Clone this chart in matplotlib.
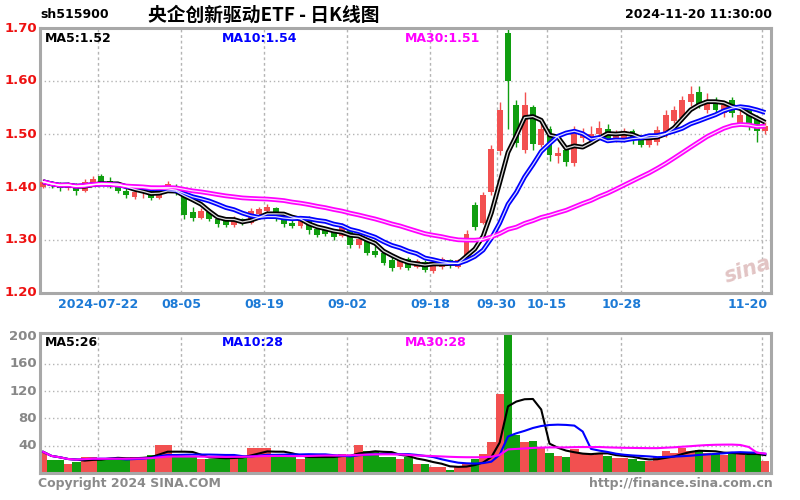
import matplotlib
matplotlib.use('Agg')
import matplotlib.pyplot as plt
import numpy as np
import pandas as pd

plt.rcParams['font.family'] = ['DejaVu Sans', 'Noto Sans CJK SC']

# ---------------- data ----------------
dates = ['07-11', '07-12', '07-15', '07-16', '07-17', '07-18', '07-19', '07-22', '07-23', '07-24',
         '07-25', '07-26', '07-29', '07-30', '07-31', '08-01', '08-02', '08-05', '08-06', '08-07',
         '08-08', '08-09', '08-12', '08-13', '08-14', '08-15', '08-16', '08-19', '08-20', '08-21',
         '08-22', '08-23', '08-26', '08-27', '08-28', '08-29', '08-30', '09-02', '09-03', '09-04',
         '09-05', '09-06', '09-09', '09-10', '09-11', '09-12', '09-13', '09-18', '09-19', '09-20',
         '09-23', '09-24', '09-25', '09-26', '09-27', '09-30', '10-08', '10-09', '10-10', '10-11',
         '10-14', '10-15', '10-16', '10-17', '10-18', '10-21', '10-22', '10-23', '10-24', '10-25',
         '10-28', '10-29', '10-30', '10-31', '11-01', '11-04', '11-05', '11-06', '11-07', '11-08',
         '11-11', '11-12', '11-13', '11-14', '11-15', '11-18', '11-19', '11-20']

opens = [1.400, 1.410, 1.404, 1.398, 1.405, 1.392, 1.408, 1.420, 1.412, 1.402,
         1.392, 1.382, 1.388, 1.392, 1.380, 1.395, 1.402, 1.385, 1.352, 1.342,
         1.352, 1.340, 1.335, 1.328, 1.340, 1.332, 1.350, 1.355, 1.360, 1.340,
         1.332, 1.326, 1.340, 1.320, 1.318, 1.315, 1.308, 1.320, 1.290, 1.298,
         1.280, 1.275, 1.262, 1.250, 1.265, 1.250, 1.258, 1.242, 1.250, 1.262,
         1.250, 1.262, 1.366, 1.332, 1.390, 1.468, 1.690, 1.555, 1.470, 1.550,
         1.480, 1.510, 1.458, 1.470, 1.445, 1.492, 1.490, 1.500, 1.510, 1.490,
         1.492, 1.505, 1.490, 1.480, 1.485, 1.500, 1.525, 1.530, 1.560, 1.580,
         1.545, 1.565, 1.540, 1.565, 1.520, 1.545, 1.530, 1.505]
highs = [1.415, 1.412, 1.410, 1.410, 1.408, 1.415, 1.420, 1.425, 1.418, 1.405,
         1.398, 1.392, 1.395, 1.395, 1.400, 1.412, 1.405, 1.388, 1.362, 1.360,
         1.355, 1.345, 1.340, 1.345, 1.342, 1.360, 1.362, 1.368, 1.362, 1.342,
         1.340, 1.345, 1.345, 1.325, 1.322, 1.320, 1.332, 1.322, 1.308, 1.300,
         1.288, 1.278, 1.268, 1.268, 1.268, 1.265, 1.262, 1.262, 1.268, 1.265,
         1.265, 1.318, 1.372, 1.390, 1.480, 1.560, 1.700, 1.565, 1.580, 1.555,
         1.525, 1.515, 1.475, 1.478, 1.515, 1.512, 1.515, 1.525, 1.518, 1.508,
         1.512, 1.510, 1.495, 1.495, 1.515, 1.545, 1.552, 1.572, 1.590, 1.590,
         1.578, 1.570, 1.562, 1.570, 1.545, 1.552, 1.535, 1.525]
lows = [1.398, 1.398, 1.392, 1.394, 1.385, 1.390, 1.405, 1.405, 1.398, 1.388,
        1.380, 1.378, 1.380, 1.376, 1.378, 1.392, 1.385, 1.340, 1.335, 1.340,
        1.335, 1.325, 1.325, 1.325, 1.328, 1.330, 1.345, 1.350, 1.335, 1.325,
        1.322, 1.322, 1.312, 1.305, 1.308, 1.300, 1.305, 1.285, 1.285, 1.272,
        1.268, 1.252, 1.242, 1.245, 1.244, 1.248, 1.240, 1.238, 1.245, 1.248,
        1.248, 1.260, 1.318, 1.330, 1.385, 1.460, 1.510, 1.475, 1.465, 1.470,
        1.475, 1.450, 1.445, 1.440, 1.440, 1.485, 1.485, 1.495, 1.485, 1.485,
        1.485, 1.482, 1.475, 1.475, 1.480, 1.495, 1.520, 1.525, 1.552, 1.550,
        1.540, 1.540, 1.532, 1.532, 1.515, 1.508, 1.485, 1.500]
closes = [1.410, 1.402, 1.398, 1.405, 1.392, 1.410, 1.416, 1.410, 1.402, 1.392,
          1.384, 1.390, 1.392, 1.380, 1.396, 1.405, 1.388, 1.348, 1.342, 1.355,
          1.340, 1.330, 1.328, 1.340, 1.332, 1.355, 1.358, 1.362, 1.340, 1.330,
          1.326, 1.340, 1.318, 1.310, 1.312, 1.305, 1.328, 1.290, 1.302, 1.276,
          1.272, 1.256, 1.248, 1.264, 1.248, 1.260, 1.244, 1.258, 1.264, 1.252,
          1.262, 1.312, 1.325, 1.385, 1.472, 1.545, 1.600, 1.483, 1.555, 1.482,
          1.510, 1.460, 1.465, 1.448, 1.505, 1.498, 1.500, 1.512, 1.490, 1.500,
          1.505, 1.488, 1.480, 1.490, 1.508, 1.535, 1.545, 1.565, 1.575, 1.555,
          1.565, 1.545, 1.555, 1.540, 1.535, 1.515, 1.505, 1.515]
volumes = [31, 19, 19, 13, 16, 24, 24, 21, 21, 21,
           21, 24, 24, 26, 41, 41, 24, 24, 24, 21,
           21, 21, 21, 26, 24, 36, 36, 36, 24, 24,
           24, 21, 24, 24, 24, 24, 28, 26, 41, 32,
           32, 24, 24, 21, 24, 13, 13, 9, 9, 5,
           9, 15, 20, 28, 45, 115, 280, 55, 45, 47,
           38, 30, 25, 24, 35, 28, 26, 30, 25, 22,
           22, 20, 18, 17, 24, 32, 30, 36, 32, 33,
           30, 28, 26, 30, 28, 27, 28, 18]

tick_dates = ['07-22', '08-05', '08-19', '09-02', '09-18', '09-30', '10-15', '10-28', '11-20']
tick_labels = ['2024-07-22', '08-05', '08-19', '09-02', '09-18', '09-30', '10-15', '10-28', '11-20']
price_ticks = [1.20, 1.30, 1.40, 1.50, 1.60, 1.70]
vol_ticks = [40, 80, 120, 160, 200]
ma_periods = [5, 10, 30]
price_ma_labels = ['MA5:1.52', 'MA10:1.54', 'MA30:1.51']
vol_ma_labels = ['MA5:26', 'MA10:28', 'MA30:28']

# ---------------- style ----------------
RED = '#f25050'
GREEN = '#109e10'
MA_COLORS = ['#000000', '#0000ff', '#ff00ff']
BORDER = '#a8a8a8'
GRID = '#b4b4b4'
W, H = 800, 500


def fx(x):
    return x / W


def fy(y):
    return 1 - y / H


fig = plt.figure(figsize=(8, 5), dpi=100, facecolor='white')

n = len(closes)
x = np.arange(n)
o = np.array(opens)
c = np.array(closes)
hi = np.array(highs)
lo = np.array(lows)
v = np.array(volumes)
up = c >= o
colors = np.where(up, RED, GREEN)

# pixel geometry: candle i centre at 43.2 + 8.3*i
x0p, dxp = 43.2, 8.3
left_p, right_p = 40, 771
xlim = ((left_p - x0p) / dxp, (right_p - x0p) / dxp)

ax = fig.add_axes([fx(left_p), fy(293), fx(right_p - left_p), (293 - 28) / H])
axv = fig.add_axes([fx(left_p), fy(473), fx(right_p - left_p), (473 - 333) / H])

tick_idx = [dates.index(d) for d in tick_dates]

for a in (ax, axv):
    a.set_xlim(*xlim)
    a.set_xticks([])
    a.set_yticks([])
    for s in a.spines.values():
        s.set_color(BORDER)
        s.set_linewidth(2.2)
    for ti in tick_idx:
        a.axvline(ti - 0.35, color=GRID, lw=1.0, ls=(0, (2, 2)), zorder=0)

# ---- price panel ----
ax.set_ylim(1.20, 1.70)
for p in price_ticks[1:-1]:
    ax.axhline(p, color=GRID, lw=1.0, ls=(0, (1, 2)), zorder=0)

ax.vlines(x, lo, hi, colors=colors, lw=1.0, zorder=2)
body = np.maximum(np.abs(c - o), 0.0015)
ax.bar(x, body, bottom=np.minimum(o, c), width=0.72, color=colors, zorder=3)

cs = pd.Series(closes)
for per, col in zip(ma_periods, MA_COLORS):
    ma = cs.rolling(per, min_periods=1).mean()
    ax.plot(x, ma, color=col, lw=3.4, zorder=4, solid_capstyle='butt')
    ax.plot(x, ma, color='white', lw=0.9, zorder=5, alpha=0.85)

# ---- volume panel ----
axv.set_ylim(0, 205)
for t in vol_ticks[:-1]:
    axv.axhline(t, color=GRID, lw=1.0, ls=(0, (1, 2)), zorder=0)
axv.bar(x, v, width=1.0, color=colors, zorder=2)
vs = pd.Series(volumes)
for per, col in zip(ma_periods, MA_COLORS):
    ma = vs.rolling(per, min_periods=1).mean()
    axv.plot(x, ma, color=col, lw=1.5, zorder=4)

# ---------------- texts ----------------
bold = dict(fontweight='bold')
fig.text(fx(40), fy(15), 'sh515900', fontsize=9, color='black', va='center', ha='left', **bold)
fig.text(fx(148), fy(15), '央企创新驱动ETF - 日K线图', fontsize=13.5, color='black',
         va='center', ha='left', family=['Noto Sans CJK SC', 'DejaVu Sans'], fontweight='bold')
fig.text(fx(772), fy(15), '2024-11-20 11:30:00', fontsize=9, color='black', va='center', ha='right', **bold)

# price ticks labels
for p in price_ticks:
    yp = 293 - (p - 1.20) / 0.50 * (293 - 28)
    fig.text(fx(37), fy(yp), f'{p:.2f}', fontsize=9.5, color='#ee1111', va='center', ha='right', **bold)

# volume tick labels
for t in vol_ticks:
    yp = 473 - t / 205 * (473 - 333)
    fig.text(fx(37), fy(yp), f'{t}', fontsize=9.5, color='#888888', va='center', ha='right', **bold)

# x labels
for ti, lab in zip(tick_idx, tick_labels):
    xp = x0p + dxp * ti - 3
    if lab == tick_labels[-1]:
        fig.text(fx(768), fy(305), lab, fontsize=9, color='#1c7ad6', va='center', ha='right', **bold)
    else:
        fig.text(fx(xp), fy(305), lab, fontsize=9, color='#1c7ad6', va='center', ha='center', **bold)

# MA legends
leg_x = [45, 222, 405]
for lx, lab, col in zip(leg_x, price_ma_labels, MA_COLORS):
    fig.text(fx(lx), fy(38), lab, fontsize=9, color=col, va='center', ha='left', **bold)
for lx, lab, col in zip(leg_x, vol_ma_labels, MA_COLORS):
    fig.text(fx(lx), fy(343), lab, fontsize=9, color=col, va='center', ha='left', **bold)

# watermark logo
fig.text(fx(748), fy(270), 'sina', fontsize=15, color='#e2c4c4', va='center', ha='center',
         rotation=18, fontstyle='italic', fontweight='bold', zorder=1)

# footer
fig.text(fx(38), fy(483), 'Copyright 2024 SINA.COM', fontsize=9, color='#8a8a8a', va='center', ha='left', **bold)
fig.text(fx(773), fy(483), 'http://finance.sina.com.cn', fontsize=9, color='#8a8a8a', va='center', ha='right', **bold)

fig.savefig('out.png', dpi=100, facecolor='white')
